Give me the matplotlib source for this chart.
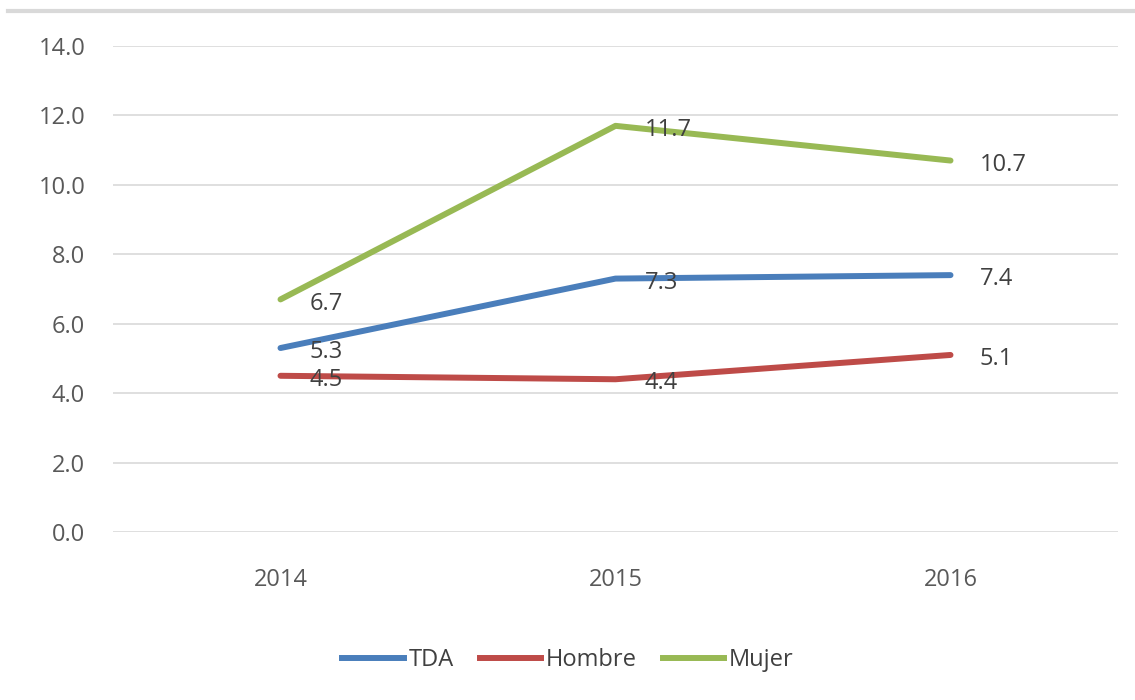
import matplotlib
matplotlib.use("Agg")
import matplotlib.pyplot as plt
from matplotlib.lines import Line2D

years = ["2014", "2015", "2016"]
tda = [5.3, 7.3, 7.4]
hombre = [4.5, 4.4, 5.1]
mujer = [6.7, 11.7, 10.7]
series_names = ["TDA", "Hombre", "Mujer"]
colors = ["#4A7EBB", "#BE4B48", "#98B954"]

plt.rcParams['font.family'] = ['Open Sans', 'DejaVu Sans']

fig = plt.figure(figsize=(11.35, 7.0), dpi=100)
ax = fig.add_axes([113/1135, 1-532/700, (1118-113)/1135, (532-46)/700])

x = list(range(len(years)))
for vals, name, c in zip([tda, hombre, mujer], series_names, colors):
    ax.plot(x, vals, color=c, lw=4.3, solid_capstyle='round', label=name, zorder=3)
    for xi, v in zip(x, vals):
        ax.annotate(f"{v:.1f}", (xi, v), xytext=(21, -3), textcoords='offset points',
                    ha='left', va='center', fontsize=17, color='#404040', zorder=4)

ax.set_xlim(-0.5, 2.5)
ax.set_ylim(0, 14)
ax.set_yticks([0, 2, 4, 6, 8, 10, 12, 14])
ax.set_yticklabels([f"{v:.1f}" for v in [0, 2, 4, 6, 8, 10, 12, 14]])
ax.set_xticks(x)
ax.set_xticklabels(years)
ax.tick_params(axis='both', length=0, labelsize=17, colors='#595959')
ax.tick_params(axis='y', pad=20)
ax.tick_params(axis='x', pad=26)
ax.grid(axis='y', color='#D9D9D9', lw=1.2)
ax.set_axisbelow(True)
for s in ax.spines.values():
    s.set_visible(False)

# top border
fig.add_artist(Line2D([8/1135, 1], [1-11/700, 1-11/700], color='#D9D9D9', lw=3))

handles = [Line2D([0], [0], color=c, lw=4.3) for c in colors]
fig.legend(handles, series_names, loc='center', bbox_to_anchor=(568/1135, 1-660/700),
           ncol=3, frameon=False, fontsize=17, handlelength=2.6, handletextpad=0.2,
           columnspacing=1.1, labelcolor='#404040')

fig.savefig("out.png", dpi=100)
